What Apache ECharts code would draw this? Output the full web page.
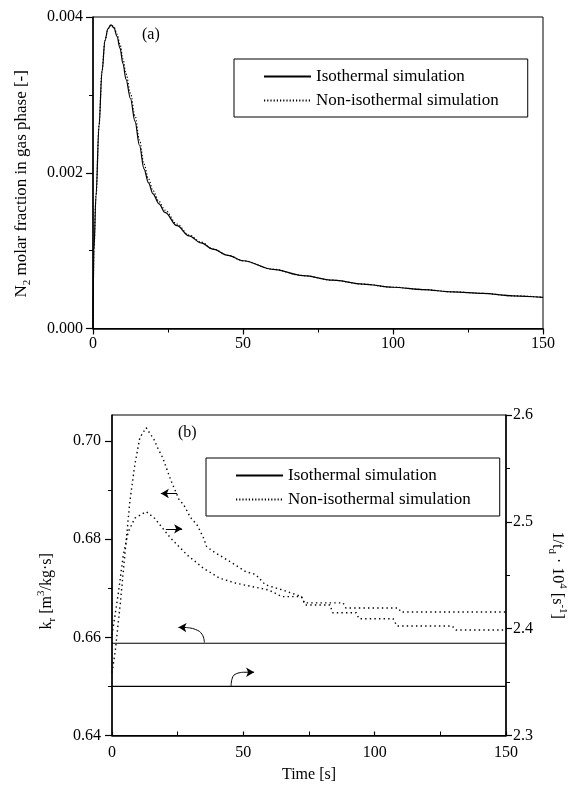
<!DOCTYPE html>
<html><head><meta charset="utf-8">
<script src="https://cdn.jsdelivr.net/npm/echarts@6/dist/echarts.min.js"></script>
<style>html,body{margin:0;padding:0;background:#fff}#c{width:576px;height:793px}</style>
</head><body><div id="c"></div>
<script>
// ---- Panel (a): N2 molar fraction in gas phase ----
const timeA  = [0, 0.3, 1, 2, 3, 4, 5, 6, 7, 8, 9, 10, 11, 12.5, 14, 15.5, 17, 18.5, 20, 22, 24, 28, 32, 36, 40, 45, 50, 60, 70, 80, 90, 100, 110, 120, 130, 140, 150];
const isoA   = [0, 0.0010, 0.0017, 0.0026, 0.0033, 0.0037, 0.00385, 0.0039, 0.00386, 0.00375, 0.0036, 0.0034, 0.0032, 0.00295, 0.00266, 0.00235, 0.00205, 0.00187, 0.00173, 0.00160, 0.00149, 0.00132, 0.00119, 0.00110, 0.00102, 0.00094, 0.00087, 0.00076, 0.00068, 0.00062, 0.00057, 0.00053, 0.00050, 0.00047, 0.00045, 0.00042, 0.00040];
const nonIsoA= [0, 0.0010, 0.0017, 0.0026, 0.0033, 0.0037, 0.00385, 0.0039, 0.00387, 0.00378, 0.00365, 0.00346, 0.00327, 0.00302, 0.00273, 0.00242, 0.00211, 0.00192, 0.00177, 0.00163, 0.00152, 0.00134, 0.00120, 0.00111, 0.00102, 0.00094, 0.00087, 0.00076, 0.00068, 0.00062, 0.00057, 0.00053, 0.00050, 0.00047, 0.00045, 0.00042, 0.00040];

// ---- Panel (b): kr (left axis) and 1/td*1e4 (right axis) ----
const timeIsoB = [0, 150];
const krIso    = [0.6588, 0.6588];
const tdIso    = [2.346, 2.346];
const timeKr = [0, 1.2, 3.1, 5, 6.8, 8.7, 10.6, 13, 16, 17.4, 19.3, 22.4, 25.5, 27.3, 29.9, 32.3, 34.8, 36, 38.5, 44.7, 50.9, 54.7, 58.4, 64.6, 72.1, 73.5, 83, 84, 93, 94, 107, 108.5, 129.5, 131, 150];
const krNon  = [0.6528, 0.6570, 0.6666, 0.6774, 0.6877, 0.6952, 0.7007, 0.7027, 0.7003, 0.6986, 0.6966, 0.6920, 0.6881, 0.6870, 0.6844, 0.6830, 0.6803, 0.6785, 0.6775, 0.6755, 0.6734, 0.6728, 0.6707, 0.6697, 0.6683, 0.6666, 0.6666, 0.6650, 0.6650, 0.6638, 0.6638, 0.6623, 0.6623, 0.6615, 0.6615];
const timeTd = [0, 2.5, 4.3, 6.2, 8.7, 13, 16.2, 22.4, 28.6, 34.8, 41, 47.3, 53.5, 59.7, 64.6, 72.1, 73.3, 88, 89, 109, 110, 150];
const tdNon  = [2.3941, 2.4346, 2.4690, 2.4908, 2.5034, 2.5096, 2.5034, 2.4846, 2.4690, 2.4566, 2.4472, 2.4425, 2.4393, 2.4362, 2.4300, 2.4300, 2.4241, 2.4241, 2.4194, 2.4194, 2.4156, 2.4156];

// ---- Arrow annotations (data coordinates) ----
const arrowKrLeft  = [[24.8, 0.6893], [18.6, 0.6893]];   // straight, points to left axis
const arrowTdRight = [[20.5, 0.6821], [26.7, 0.6821]];   // straight, points to right axis
const curveKrT = [35.16, 34.3, 31.8, 28.4];               // curved stem, left axis
const curveKrV = [0.65894, 0.66060, 0.66160, 0.66198];
const headKr   = [[28.4, 0.66198], [25.3, 0.66205]];
const curveTdT = [45.34, 45.8, 47.5, 50.1];               // curved stem, right axis
const curveTdV = [2.34635, 2.35380, 2.35800, 2.35918];
const headTd   = [[50.1, 2.35918], [54.1, 2.35925]];

// ---- Tick labels ----
const xTicks   = [0, 50, 100, 150];
const yTicksA  = [0, 0.002, 0.004];
const krTicks  = [0.64, 0.66, 0.68, 0.70];
const krMinor  = [0.65, 0.67, 0.69];
const tdTicks  = [2.3, 2.4, 2.5, 2.6];

const names = ['Isothermal simulation', 'Non-isothermal simulation'];

const F = 'Liberation Serif';
const zip = (xs, ys) => xs.map((x, i) => [x, ys[i]]);
const K = '#000';

const chart = echarts.init(document.getElementById('c'), null, {renderer: 'canvas'});

const lab = (m, fmt) => ({fontFamily: F, fontSize: 16, color: K, margin: m, formatter: fmt});
const nameStyle = (size, pad) => ({
  fontFamily: F, fontSize: size, color: K, lineHeight: 22, padding: pad,
  rich: {
    sub: {fontFamily: F, fontSize: 11, color: K, lineHeight: 11, verticalAlign: 'bottom'},
    sup: {fontFamily: F, fontSize: 11, color: K, lineHeight: 11, verticalAlign: 'top'}
  }
});
const axLine = {show: true, onZero: false, lineStyle: {color: K, width: 1.5}};

const legendBase = {
  orient: 'vertical', padding: [9, 29, 8, 29], itemWidth: 47, itemHeight: 14, itemGap: 7,
  borderColor: K, borderWidth: 1, borderRadius: 0, backgroundColor: '#fff',
  itemStyle: {color: 'rgba(0,0,0,0)', borderColor: 'rgba(0,0,0,0)', borderWidth: 0},
  selectedMode: false, textStyle: {fontFamily: F, fontSize: 17, color: K}, data: names
};

const solid = {color: K, width: 1.2};
const arrowML = (pts) => ({
  silent: true, animation: false, symbol: ['none', 'arrow'], symbolSize: [7, 8],
  label: {show: false}, emphasis: {disabled: true},
  lineStyle: {color: K, width: 1, type: 'solid'},
  data: pts.map(p => [{coord: p[0]}, {coord: p[1]}])
});
const stem = (name, yIdx, ts, vs, head) => ({
  type: 'line', name: name, xAxisIndex: 1, yAxisIndex: yIdx, data: zip(ts, vs),
  symbol: 'none', smooth: 0.5, silent: true, color: K,
  lineStyle: {color: K, width: 1}, markLine: arrowML([head])
});

const option = {
  animation: false,
  backgroundColor: '#fff',
  textStyle: {fontFamily: F, color: K},
  title: [
    {text: '(a)', left: 142, top: 27, padding: 0, textStyle: {fontFamily: F, fontSize: 16, fontWeight: 'normal', color: K}},
    {text: '(b)', left: 178, top: 425, padding: 0, textStyle: {fontFamily: F, fontSize: 16, fontWeight: 'normal', color: K}}
  ],
  legend: [
    Object.assign({}, legendBase, {left: 234, top: 59}),
    Object.assign({}, legendBase, {left: 206, top: 458})
  ],
  grid: [
    {left: 93, top: 17, width: 450, height: 311.5, show: true, borderColor: K, borderWidth: 1, backgroundColor: 'transparent'},
    {left: 112, top: 415, width: 402, height: 320.5, show: true, borderColor: K, borderWidth: 1, backgroundColor: 'transparent'}
  ],
  xAxis: [
    {gridIndex: 0, type: 'value', min: 0, max: 150, interval: 50,
     axisLine: axLine,
     axisTick: {show: true, length: 6, lineStyle: {color: K, width: 1.2}, customValues: xTicks},
     minorTick: {show: true, splitNumber: 2, length: 4, lineStyle: {color: K, width: 1}},
     axisLabel: Object.assign(lab(7), {customValues: xTicks}),
     splitLine: {show: false}},
    {gridIndex: 1, type: 'value', min: 0, max: 150, interval: 50,
     name: 'Time [s]', nameLocation: 'middle', nameGap: 28, nameTextStyle: nameStyle(16, 0),
     axisLine: axLine,
     axisTick: {show: true, inside: true, length: 4, lineStyle: {color: K, width: 1.2}, customValues: xTicks},
     minorTick: {show: true, splitNumber: 2, length: 4, lineStyle: {color: K, width: 1}},
     axisLabel: Object.assign(lab(9), {customValues: xTicks}),
     splitLine: {show: false}}
  ],
  yAxis: [
    {gridIndex: 0, type: 'value', min: 0, max: 0.004, interval: 0.002,
     name: 'N{sub|2} molar fraction in gas phase [-]', nameLocation: 'middle', nameRotate: 90, nameGap: 60,
     nameTextStyle: nameStyle(17, [0, 22, 0, 0]),
     axisLine: axLine,
     axisTick: {show: true, length: 7, lineStyle: {color: K, width: 1.2}, customValues: yTicksA},
     minorTick: {show: true, splitNumber: 2, length: 4, lineStyle: {color: K, width: 1}},
     axisLabel: Object.assign(lab(10, v => v.toFixed(3)), {customValues: yTicksA}),
     splitLine: {show: false}},
    {gridIndex: 1, type: 'value', min: 0.64, max: 0.7053, position: 'left',
     name: 'k{sub|r} [m{sup|3}/kg·s]', nameLocation: 'middle', nameRotate: 90, nameGap: 54,
     nameTextStyle: nameStyle(16, [0, 32, 0, 0]),
     axisLine: axLine,
     axisTick: {show: true, length: 7, lineStyle: {color: K, width: 1.2}, customValues: krTicks},
     axisLabel: Object.assign(lab(11, v => v.toFixed(2)), {customValues: krTicks}),
     splitLine: {show: false}},
    {gridIndex: 1, type: 'value', min: 2.3, max: 2.6, interval: 0.1, position: 'right',
     name: '1/t{sub|d} · 10{sup|4} [s{sup|-1}]', nameLocation: 'middle', nameRotate: -90, nameGap: 40,
     nameTextStyle: nameStyle(16, 0),
     axisLine: axLine,
     axisTick: {show: true, length: 6, lineStyle: {color: K, width: 1.2}, customValues: tdTicks},
     minorTick: {show: true, splitNumber: 2, length: 4, lineStyle: {color: K, width: 1}},
     axisLabel: Object.assign(lab(7, v => v.toFixed(1)), {customValues: tdTicks}),
     splitLine: {show: false}},
    {gridIndex: 1, type: 'value', min: 0.64, max: 0.7053, position: 'left',
     axisLine: {show: false},
     axisTick: {show: true, length: 4, lineStyle: {color: K, width: 1}, customValues: krMinor},
     axisLabel: {show: false},
     splitLine: {show: false}}
  ],
  series: [
    {type: 'line', name: names[0], xAxisIndex: 0, yAxisIndex: 0, data: zip(timeA, isoA),
     symbol: 'none', smooth: 0.35, smoothMonotone: 'x', color: K, lineStyle: solid, z: 3},
    {type: 'line', name: names[1], xAxisIndex: 0, yAxisIndex: 0, data: zip(timeA, nonIsoA),
     symbol: 'none', smooth: 0.35, smoothMonotone: 'x', color: K, lineStyle: {color: K, width: 1.2, type: [1.2, 2]}, z: 2},
    {type: 'line', name: names[0], xAxisIndex: 1, yAxisIndex: 1, data: zip(timeIsoB, krIso),
     symbol: 'none', color: K, lineStyle: solid,
     markLine: arrowML([arrowKrLeft, arrowTdRight])},
    {type: 'line', name: names[0], xAxisIndex: 1, yAxisIndex: 2, data: zip(timeIsoB, tdIso),
     symbol: 'none', color: K, lineStyle: solid},
    {type: 'line', name: names[1], xAxisIndex: 1, yAxisIndex: 1, data: zip(timeKr, krNon),
     symbol: 'none', color: K, lineStyle: {color: K, width: 1.4, type: [1.4, 3.2]}},
    {type: 'line', name: names[1], xAxisIndex: 1, yAxisIndex: 2, data: zip(timeTd, tdNon),
     symbol: 'none', color: K, lineStyle: {color: K, width: 1.4, type: [1.4, 3.2]}},
    stem('arrow-kr', 1, curveKrT, curveKrV, headKr),
    stem('arrow-td', 2, curveTdT, curveTdV, headTd)
  ]
};
chart.setOption(option);
</script></body></html>
